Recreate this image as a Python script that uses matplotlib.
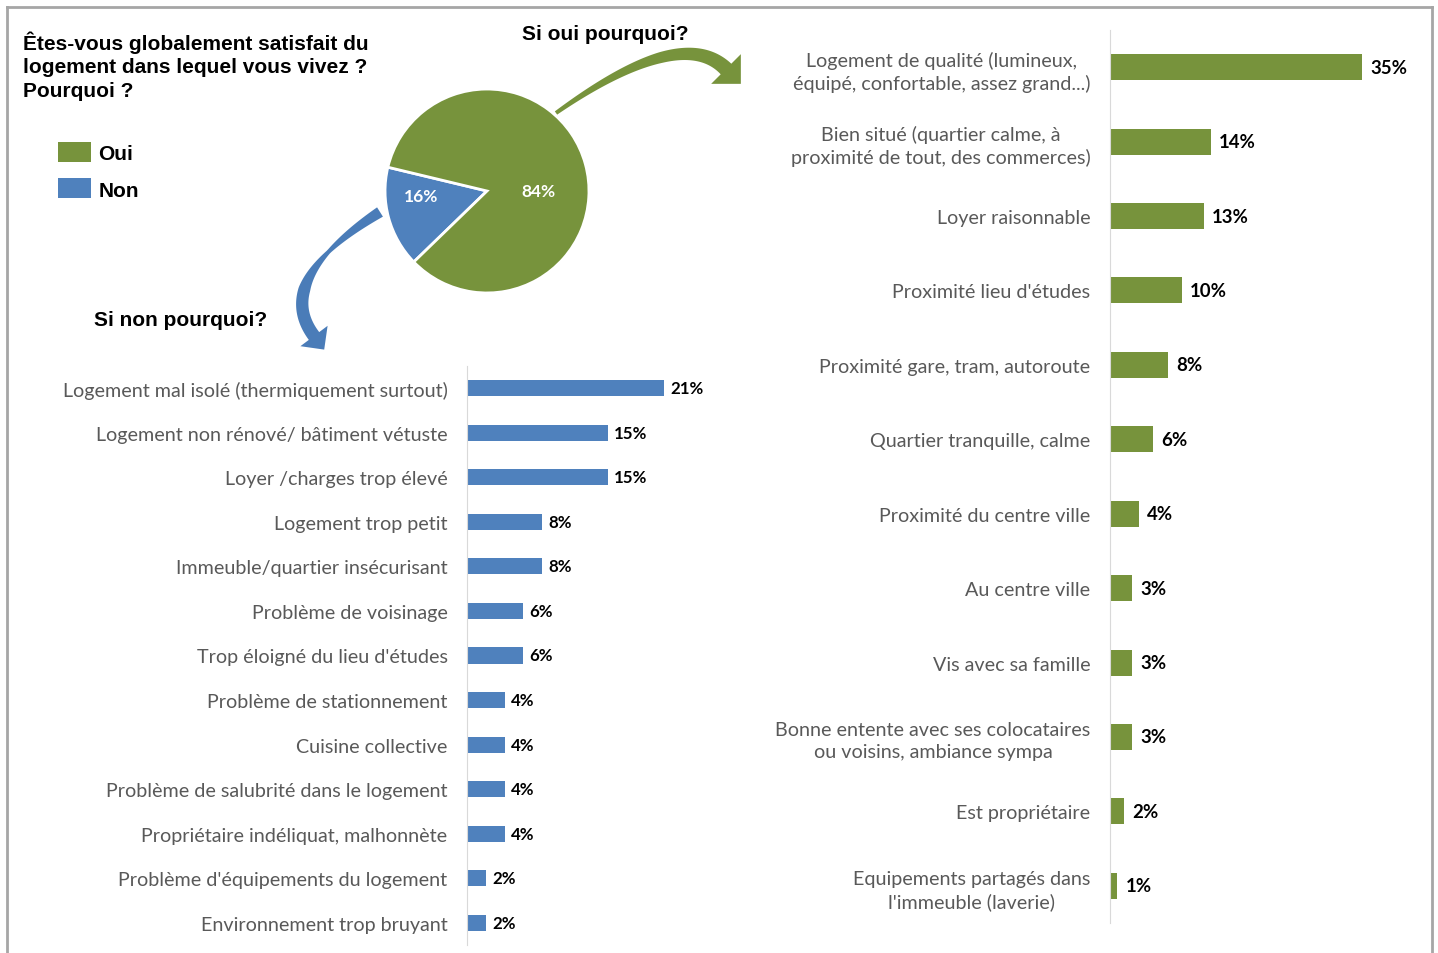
import numpy as np
import matplotlib
matplotlib.use('Agg')
import matplotlib.pyplot as plt
from matplotlib.patches import Polygon
from matplotlib.lines import Line2D

# satisfaction globale
pie_labels = ['Non', 'Oui']
pie_values = [16, 84]

# raisons si non
non_categories = [
    'Logement mal isolé (thermiquement surtout)',
    'Logement non rénové/ bâtiment vétuste',
    'Loyer /charges trop élevé',
    'Logement trop petit',
    'Immeuble/quartier insécurisant',
    'Problème de voisinage',
    "Trop éloigné du lieu d'études",
    'Problème de stationnement',
    'Cuisine collective',
    'Problème de salubrité dans le logement',
    'Propriétaire indéliquat, malhonnète',
    "Problème d'équipements du logement",
    'Environnement trop bruyant',
]
non_values = [21, 15, 15, 8, 8, 6, 6, 4, 4, 4, 4, 2, 2]

# raisons si oui
oui_categories = [
    'Logement de qualité (lumineux,\néquipé, confortable, assez grand...)',
    'Bien situé (quartier calme, à\nproximité de tout, des commerces)',
    'Loyer raisonnable',
    "Proximité lieu d'études",
    'Proximité gare, tram, autoroute',
    'Quartier tranquille, calme',
    'Proximité du centre ville',
    'Au centre ville',
    'Vis avec sa famille',
    'Bonne entente avec ses colocataires\nou voisins, ambiance sympa',
    'Est propriétaire',
    "Equipements partagés dans\nl'immeuble (laverie)",
]
oui_values = [35, 14, 13, 10, 8, 6, 4, 3, 3, 3, 2, 1]

GREEN = '#77933C'
BLUE = '#4F81BD'
GREY_TXT = '#595959'
W, H = 1438, 954

fig = plt.figure(figsize=(W / 100, H / 100), dpi=100)
fig.patch.set_facecolor('white')


def px(x, y):
    return x / W, 1 - y / H


def box(x0, y0, x1, y1):
    return [x0 / W, 1 - y1 / H, (x1 - x0) / W, (y1 - y0) / H]


# cadre
for xs, ys in [((7, 7), (954, 8)), ((7, 1432), (8, 8)), ((1432, 1432), (8, 954))]:
    fig.add_artist(Line2D([x / W for x in xs], [1 - y / H for y in ys],
                          color='#A6A6A6', lw=2, transform=fig.transFigure))

# camembert
ax_pie = fig.add_axes(box(383, 88, 591, 296))
wedges, _ = ax_pie.pie(pie_values, colors=[BLUE, GREEN], startangle=166.5,
                       counterclock=True, radius=1,
                       wedgeprops=dict(edgecolor='white', linewidth=2))
ax_pie.set_xlim(-1.02, 1.02)
ax_pie.set_ylim(-1.02, 1.02)
ax_pie.set_aspect('equal')
ax_pie.axis('off')
for (xt, yt), v in zip([(-0.65, -0.05), (0.5, 0.0)], pie_values):
    ax_pie.text(xt, yt, f'{v}%', color='white', fontsize=12.5, fontweight='bold',
                family='Lato', ha='center', va='center')

leg = fig.legend([wedges[1], wedges[0]], [pie_labels[1], pie_labels[0]],
                 loc='upper left', bbox_to_anchor=px(39, 124), frameon=False,
                 handlelength=1.6, handleheight=1.1, handletextpad=0.35,
                 labelspacing=0.75,
                 prop=dict(family='Liberation Sans', weight='bold', size=15))
for h in leg.legend_handles:
    h.set_edgecolor('none')

fig.text(*px(23, 31), 'Êtes-vous globalement satisfait du\nlogement dans lequel vous vivez ?\nPourquoi ?',
         family='Liberation Sans', weight='bold', fontsize=15, va='top',
         ha='left', linespacing=1.33)
fig.text(*px(605, 34), 'Si oui pourquoi?', family='Liberation Sans',
         weight='bold', fontsize=15, ha='center', va='center')
fig.text(*px(181, 320), 'Si non pourquoi?', family='Liberation Sans',
         weight='bold', fontsize=15, ha='center', va='center')


# fleches courbes
def curved_arrow(p0, p1, p2, widths, head_half, head_len, color):
    p0, p1, p2 = map(np.array, (p0, p1, p2))
    s = np.linspace(0, 1, 80)[:, None]
    pts = (1 - s) ** 2 * p0 + 2 * s * (1 - s) * p1 + s ** 2 * p2
    d = 2 * (1 - s) * (p1 - p0) + 2 * s * (p2 - p1)
    d = d / np.linalg.norm(d, axis=1)[:, None]
    nrm = np.column_stack([-d[:, 1], d[:, 0]])
    w = np.interp(s[:, 0], [k for k, _ in widths], [v for _, v in widths])[:, None]
    left = pts + nrm * w / 2
    right = pts - nrm * w / 2
    tip = p2 + d[-1] * head_len
    hl = p2 + nrm[-1] * head_half
    hr = p2 - nrm[-1] * head_half
    poly = np.vstack([left, hl, tip, hr, right[::-1]])
    poly = np.column_stack([poly[:, 0] / W, 1 - poly[:, 1] / H])
    fig.add_artist(Polygon(poly, closed=True, facecolor=color, edgecolor='none',
                           transform=fig.transFigure))


curved_arrow((556, 114), (681, 25), (726, 70),
             [(0, 4), (0.5, 11), (1, 15)], 21, 21, GREEN)
curved_arrow((380, 213), (272, 281), (314, 337),
             [(0, 11), (0.3, 4), (0.6, 12), (1, 13)], 17, 17, '#4A7CB8')

# barres "non"
ax_non = fig.add_axes(box(467, 367, 467 + 9.4 * 30, 946))
y_non = np.arange(len(non_values))
bars = ax_non.barh(y_non, non_values, height=0.36, color=BLUE)
ax_non.set_xlim(0, 30)
ax_non.set_ylim(len(non_values) - 0.5, -0.5)
ax_non.set_yticks(y_non)
ax_non.set_yticklabels(non_categories, family='Lato', fontsize=14.2, color=GREY_TXT)
for b, v in zip(bars, non_values):
    ax_non.annotate(f'{v}%', (b.get_width(), b.get_y() + b.get_height() / 2),
                    xytext=(4.5, 0), textcoords='offset points', va='center',
                    ha='left', family='Lato', weight='bold', fontsize=12.2)

# barres "oui"
ax_oui = fig.add_axes(box(1110, 31, 1110 + 7.2 * 40, 924))
y_oui = np.arange(len(oui_values))
bars = ax_oui.barh(y_oui, oui_values, height=0.35, color=GREEN)
ax_oui.set_xlim(0, 40)
ax_oui.set_ylim(len(oui_values) - 0.5, -0.5)
ax_oui.set_yticks(y_oui)
ax_oui.set_yticklabels(oui_categories, family='Lato', fontsize=14.2, color=GREY_TXT,
                       multialignment='center', linespacing=1.35)
for b, v in zip(bars, oui_values):
    ax_oui.annotate(f'{v}%', (b.get_width(), b.get_y() + b.get_height() / 2),
                    xytext=(6, 0), textcoords='offset points', va='center',
                    ha='left', family='Lato', weight='bold', fontsize=13.4)

for ax in (ax_non, ax_oui):
    for side in ('top', 'right', 'bottom'):
        ax.spines[side].set_visible(False)
    ax.spines['left'].set_color('#D9D9D9')
    ax.set_xticks([])
    ax.tick_params(axis='y', length=0, pad=14)
    ax.set_facecolor('none')

fig.savefig('out.png', dpi=100, facecolor='white')
